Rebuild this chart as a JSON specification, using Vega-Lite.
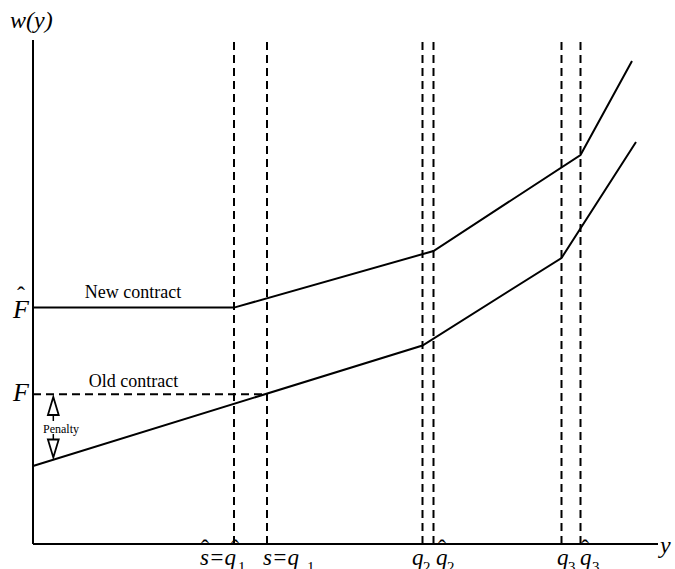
{
  "$schema": "https://vega.github.io/schema/vega-lite/v6.json",
  "width": 625,
  "height": 504,
  "autosize": "none",
  "padding": {"left": 33, "top": 40, "right": 17, "bottom": 25},
  "background": "white",
  "config": {"view": {"stroke": null}},
  "datasets": {
    "axes": [{"x": 0, "y": 0, "x2": 0, "y2": 100}, {"x": 0, "y": 0, "x2": 100, "y2": 0}],
    "guides": [
      {"x": 32.16, "y": 0, "x2": 32.16, "y2": 100},
      {"x": 37.44, "y": 0, "x2": 37.44, "y2": 100},
      {"x": 62.32, "y": 0, "x2": 62.32, "y2": 100},
      {"x": 64.08, "y": 0, "x2": 64.08, "y2": 100},
      {"x": 84.56, "y": 0, "x2": 84.56, "y2": 100},
      {"x": 87.6, "y": 0, "x2": 87.6, "y2": 100},
      {"x": 0, "y": 29.7, "x2": 37.44, "y2": 29.7}
    ],
    "contracts": [
      {"contract": "New", "o": 1, "x": 0, "y": 46.9},
      {"contract": "New", "o": 2, "x": 32.16, "y": 46.9},
      {"contract": "New", "o": 3, "x": 64.08, "y": 58.13},
      {"contract": "New", "o": 4, "x": 87.6, "y": 77.18},
      {"contract": "New", "o": 5, "x": 95.84, "y": 95.83},
      {"contract": "Old", "o": 1, "x": 0, "y": 15.48},
      {"contract": "Old", "o": 2, "x": 62.32, "y": 39.38},
      {"contract": "Old", "o": 3, "x": 84.56, "y": 56.75},
      {"contract": "Old", "o": 4, "x": 96.48, "y": 79.76}
    ],
    "ticklabels": [
      {"t": "s=q", "x": 26.72, "y": -4.17},
      {"t": "s=q", "x": 36.8, "y": -4.17},
      {"t": "q", "x": 60.64, "y": -4.17},
      {"t": "q", "x": 64.48, "y": -4.17},
      {"t": "q", "x": 83.84, "y": -4.17},
      {"t": "q", "x": 87.52, "y": -4.17}
    ],
    "subs": [
      {"t": "1", "x": 32.8, "y": -5.56},
      {"t": "1", "x": 43.84, "y": -5.56},
      {"t": "2", "x": 62.4, "y": -5.56},
      {"t": "2", "x": 66.24, "y": -5.56},
      {"t": "3", "x": 85.6, "y": -5.56},
      {"t": "3", "x": 89.44, "y": -5.56}
    ],
    "hats": [
      {"x": 27.52, "y": -2.3},
      {"x": 32.32, "y": -2.3},
      {"x": 65.44, "y": -2.3},
      {"x": 88.32, "y": -2.3},
      {"x": -1.92, "y": 47.8}
    ],
    "axislabels": [
      {"t": "w(y)", "x": -3.68, "y": 102.38},
      {"t": "y", "x": 100.3, "y": -1.79}
    ],
    "flabels": [
      {"t": "F", "x": -3.2, "y": 44.84},
      {"t": "F", "x": -3.2, "y": 28.37}
    ],
    "names": [
      {"t": "New contract", "x": 16.0, "y": 48.81},
      {"t": "Old contract", "x": 16.08, "y": 31.15}
    ],
    "penalty": [{"t": "Penalty", "x": 4.48, "y": 22.02}],
    "arrows": [
      {"dir": "up", "x": 3.25, "y": 27.38},
      {"dir": "down", "x": 3.25, "y": 18.95}
    ],
    "stems": [
      {"x": 3.25, "y": 25.6, "y2": 24.4},
      {"x": 3.25, "y": 21.83, "y2": 20.63}
    ]
  },
  "layer": [
    {
      "data": {"name": "guides"},
      "mark": {"type": "rule", "color": "black", "strokeWidth": 2, "strokeDash": [8, 5]},
      "encoding": {
        "x": {"field": "x", "type": "quantitative", "scale": {"domain": [0, 100], "nice": false, "zero": false}, "axis": null},
        "y": {"field": "y", "type": "quantitative", "scale": {"domain": [0, 100], "nice": false, "zero": false}, "axis": null},
        "x2": {"field": "x2"},
        "y2": {"field": "y2"}
      }
    },
    {
      "data": {"name": "axes"},
      "mark": {"type": "rule", "color": "black", "strokeWidth": 2},
      "encoding": {
        "x": {"field": "x", "type": "quantitative"},
        "y": {"field": "y", "type": "quantitative"},
        "x2": {"field": "x2"},
        "y2": {"field": "y2"}
      }
    },
    {
      "data": {"name": "contracts"},
      "mark": {"type": "line", "color": "black", "strokeWidth": 2},
      "encoding": {
        "x": {"field": "x", "type": "quantitative"},
        "y": {"field": "y", "type": "quantitative"},
        "detail": {"field": "contract"},
        "order": {"field": "o"}
      }
    },
    {
      "data": {"name": "stems"},
      "mark": {"type": "rule", "color": "black", "strokeWidth": 1.5},
      "encoding": {
        "x": {"field": "x", "type": "quantitative"},
        "y": {"field": "y", "type": "quantitative"},
        "y2": {"field": "y2"}
      }
    },
    {
      "data": {"name": "arrows"},
      "transform": [{"filter": "datum.dir === 'up'"}],
      "mark": {"type": "point", "shape": "M0,-1L0.6,1L-0.6,1Z", "filled": false, "stroke": "black", "strokeWidth": 1.8, "size": 324, "opacity": 1},
      "encoding": {
        "x": {"field": "x", "type": "quantitative"},
        "y": {"field": "y", "type": "quantitative"}
      }
    },
    {
      "data": {"name": "arrows"},
      "transform": [{"filter": "datum.dir === 'down'"}],
      "mark": {"type": "point", "shape": "M0,1L0.6,-1L-0.6,-1Z", "filled": false, "stroke": "black", "strokeWidth": 1.8, "size": 324, "opacity": 1},
      "encoding": {
        "x": {"field": "x", "type": "quantitative"},
        "y": {"field": "y", "type": "quantitative"}
      }
    },
    {
      "data": {"name": "ticklabels"},
      "mark": {"type": "text", "font": "Liberation Serif", "fontStyle": "italic", "fontSize": 23, "align": "left", "baseline": "alphabetic", "color": "black"},
      "encoding": {
        "x": {"field": "x", "type": "quantitative"},
        "y": {"field": "y", "type": "quantitative"},
        "text": {"field": "t"}
      }
    },
    {
      "data": {"name": "subs"},
      "mark": {"type": "text", "font": "Liberation Serif", "fontSize": 15, "align": "left", "baseline": "alphabetic", "color": "black"},
      "encoding": {
        "x": {"field": "x", "type": "quantitative"},
        "y": {"field": "y", "type": "quantitative"},
        "text": {"field": "t"}
      }
    },
    {
      "data": {"name": "hats"},
      "mark": {"type": "text", "font": "Liberation Serif", "fontSize": 24, "align": "center", "baseline": "alphabetic", "color": "black", "text": "ˆ"},
      "encoding": {
        "x": {"field": "x", "type": "quantitative"},
        "y": {"field": "y", "type": "quantitative"}
      }
    },
    {
      "data": {"name": "axislabels"},
      "mark": {"type": "text", "font": "Liberation Serif", "fontStyle": "italic", "fontSize": 24, "align": "left", "baseline": "alphabetic", "color": "black"},
      "encoding": {
        "x": {"field": "x", "type": "quantitative"},
        "y": {"field": "y", "type": "quantitative"},
        "text": {"field": "t"}
      }
    },
    {
      "data": {"name": "flabels"},
      "mark": {"type": "text", "font": "Liberation Serif", "fontStyle": "italic", "fontSize": 26, "align": "left", "baseline": "alphabetic", "color": "black"},
      "encoding": {
        "x": {"field": "x", "type": "quantitative"},
        "y": {"field": "y", "type": "quantitative"},
        "text": {"field": "t"}
      }
    },
    {
      "data": {"name": "names"},
      "mark": {"type": "text", "font": "Liberation Serif", "fontSize": 18, "align": "center", "baseline": "alphabetic", "color": "black"},
      "encoding": {
        "x": {"field": "x", "type": "quantitative"},
        "y": {"field": "y", "type": "quantitative"},
        "text": {"field": "t"}
      }
    },
    {
      "data": {"name": "penalty"},
      "mark": {"type": "text", "font": "Liberation Serif", "fontSize": 12, "align": "center", "baseline": "alphabetic", "color": "black"},
      "encoding": {
        "x": {"field": "x", "type": "quantitative"},
        "y": {"field": "y", "type": "quantitative"},
        "text": {"field": "t"}
      }
    }
  ]
}
